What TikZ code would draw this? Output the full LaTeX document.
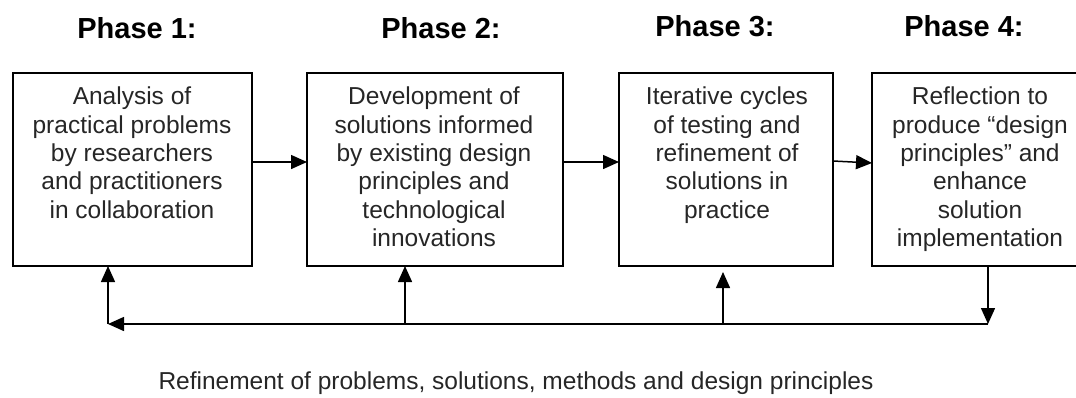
\documentclass[tikz,border=0pt]{standalone}
\usepackage{fontspec}
\setmainfont{Liberation Sans}
\usetikzlibrary{arrows.meta}
\begin{document}
\begin{tikzpicture}[x=1pt,y=1pt,
  box/.style={draw=black, line width=1.6pt, inner sep=0pt, outer sep=0pt},
  txt/.style={align=center, inner sep=0pt, text=black!85, font=\fontsize{24.5}{28.3}\selectfont},
  phase/.style={inner sep=0pt, anchor=base, font=\fontsize{29}{34}\selectfont\bfseries},
  arr/.style={line width=1.5pt, -{Triangle[length=16pt,width=14pt]}}]
\useasboundingbox (0,0) rectangle (1076,-397);
\clip (0,0) rectangle (1076,-397);
% phase labels
\node[phase] (p1) at (137,-38) {Phase 1:};
\node[phase] (p2) at (441,-38) {Phase 2:};
\node[phase] (p3) at (715,-36) {Phase 3:};
\node[phase] (p4) at (964,-36) {Phase 4:};
% boxes
\node[box, minimum width=239pt, minimum height=193pt] (b1) at (132.5,-169.5) {};
\node[box, minimum width=256pt, minimum height=193pt] (b2) at (435,-169.5) {};
\node[box, minimum width=214pt, minimum height=193pt] (b3) at (726,-169.5) {};
\node[box, minimum width=216pt, minimum height=193pt] (b4) at (980,-169.5) {};
% box texts
\node[txt, anchor=north] (t1) at (132,-87) {Analysis of\\practical problems\\by researchers\\and practitioners\\in collaboration};
\node[txt, anchor=north] (t2) at (434,-87) {Development of\\solutions informed\\by existing design\\principles and\\technological\\innovations};
\node[txt, anchor=north] (t3) at (727,-87) {Iterative cycles\\of testing and\\refinement of\\solutions in\\practice};
\node[txt, anchor=north] (t4) at (980,-87) {Reflection to\\produce “design\\principles” and\\enhance\\solution\\implementation};
% forward arrows
\draw[arr] ([yshift=7.5pt]b1.east) -- ([yshift=7.5pt]b2.west);
\draw[arr] ([yshift=7.5pt]b2.east) -- ([yshift=7.5pt]b3.west);
\draw[arr] ([yshift=8.5pt]b3.east) -- ([yshift=6.5pt]b4.west);
% feedback loop
\coordinate (f1) at (108,-324);
\coordinate (f2) at (405,-324);
\coordinate (f3) at (723,-324);
\coordinate (f4) at (988,-324);
\draw[arr] (f4 |- b4.south) -- (f4);
\draw[arr] (f4) -- (f1);
\draw[arr] (f1) -- (f1 |- b1.south);
\draw[arr] (f2) -- (f2 |- b2.south);
\draw[arr, shorten >=6pt] (f3) -- (f3 |- b3.south);
% bottom caption
\node[txt, anchor=base] (cap) at (516,-389) {Refinement of problems, solutions, methods and design principles};
\end{tikzpicture}
\end{document}
